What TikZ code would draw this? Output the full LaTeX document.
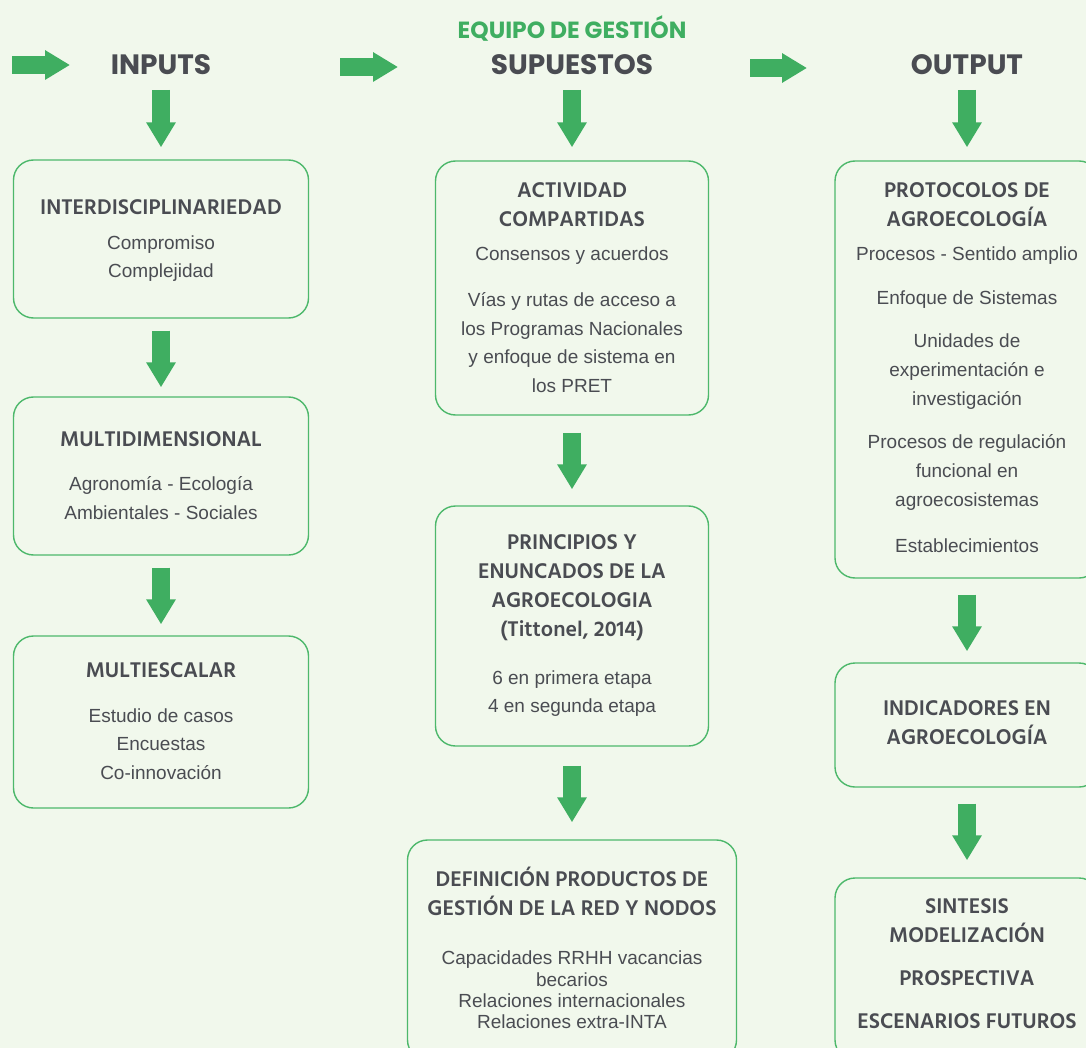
\documentclass[tikz,border=0pt]{standalone}
\usepackage{fontspec}
\usetikzlibrary{arrows.meta}
\setmainfont{Liberation Sans}
\newfontfamily\hdfont{Hind Siliguri}
\newfontfamily\ttlfont{Poppins}
\definecolor{bg}{HTML}{F1F8EC}
\definecolor{grn}{HTML}{3FAE61}
\definecolor{bord}{HTML}{4DB86B}
\definecolor{txt}{HTML}{4A4C52}
\begin{document}
\begin{tikzpicture}[x=1pt,y=-1pt,
  box/.style={draw=bord, line width=1.4pt, rounded corners=20pt, fill=bg, inner sep=0pt},
  hd/.style={font=\hdfont\bfseries\fontsize{21.8}{29}\selectfont, text=txt, align=center, inner sep=0pt},
  bd/.style={font=\fontsize{19}{28.7}\selectfont, text=txt, align=center, inner sep=0pt},
  bds/.style={font=\fontsize{19}{21.3}\selectfont, text=txt, align=center, inner sep=0pt},
  ttl/.style={font=\ttlfont\bfseries\fontsize{28}{32}\selectfont, text=txt, inner sep=0pt},
  flow/.style={draw=grn, line width=18pt, -{Triangle[width=28pt,length=25pt]}},
]
\fill[bg] (0,0) rectangle (1086,1048);
\useasboundingbox (0,0) rectangle (1086,1048);

% header and titles
\node[font=\ttlfont\bfseries\fontsize{23.4}{26}\selectfont, text=grn, inner sep=0pt] (hdr) at (572,28) {EQUIPO DE GESTIÓN};
\node[ttl] (t1) at (161,65) {INPUTS};
\node[ttl] (t2) at (572,65) {SUPUESTOS};
\node[ttl] (t3) at (967,65) {OUTPUT};

% horizontal arrows
\coordinate (h1a) at (12,65);  \coordinate (h1b) at (70,65);
\coordinate (h2a) at (340,67); \coordinate (h2b) at (398,67);
\coordinate (h3a) at (750,68); \coordinate (h3b) at (807,68);
\draw[flow] (h1a) -- (h1b);
\draw[flow] (h2a) -- (h2b);
\draw[flow] (h3a) -- (h3b);

% boxes
\node[box, minimum width=295pt, minimum height=158pt] (b1) at (161,239) {};
\node[box, minimum width=295pt, minimum height=158pt] (b2) at (161,476) {};
\node[box, minimum width=295pt, minimum height=172pt] (b3) at (161,722) {};
\node[box, minimum width=273pt, minimum height=254pt] (bA) at (572,288) {};
\node[box, minimum width=273pt, minimum height=240pt] (bB) at (572,626) {};
\node[box, minimum width=329pt, minimum height=220pt] (bC) at (572,950) {};
\node[box, minimum width=264pt, minimum height=417pt] (bD) at (967,369.5) {};
\node[box, minimum width=264pt, minimum height=124pt] (bE) at (967,725) {};
\node[box, minimum width=264pt, minimum height=182pt] (bF) at (967,969) {};

% vertical arrows
\draw[flow, shorten <=25pt, shorten >=12pt] (t1.center) -- (b1.north);
\draw[flow, shorten <=12pt, shorten >=9pt] (b1.south) -- (b2.north);
\draw[flow, shorten <=12pt, shorten >=11pt] (b2.south) -- (b3.north);
\draw[flow, shorten <=25pt, shorten >=13pt] (t2.center) -- (bA.north);
\draw[flow, shorten <=17pt, shorten >=16pt] (bA.south) -- (bB.north);
\draw[flow, shorten <=19pt, shorten >=17pt] (bB.south) -- (bC.north);
\draw[flow, shorten <=25pt, shorten >=13pt] (t3.center) -- (bD.north);
\draw[flow, shorten <=16pt, shorten >=11pt] (bD.south) -- (bE.north);
\draw[flow, shorten <=16pt, shorten >=17pt] (bE.south) -- (bF.north);

% left column text
\node[hd] (l1h) at (161,207) {INTERDISCIPLINARIEDAD};
\node[bd] (l1b) at (161,258.5) {Compromiso\\Complejidad};
\node[hd] (l2h) at (161,439) {MULTIDIMENSIONAL};
\node[bd] (l2b) at (161,498) {Agronomía - Ecología\\Ambientales - Sociales};
\node[hd] (l3h) at (161,670) {MULTIESCALAR};
\node[bd] (l3b) at (161,744) {Estudio de casos\\Encuestas\\Co-innovación};

% middle column text
\node[hd] (mAh) at (572,204.5) {ACTIVIDAD\\COMPARTIDAS};
\node[bd] (mA1) at (572,256) {Consensos y acuerdos};
\node[bd] (mA2) at (572,342.5) {Vías y rutas de acceso a\\los Programas Nacionales\\y enfoque de sistema en\\los PRET};
\node[hd] (mBh) at (572,587.5) {PRINCIPIOS Y\\ENUNCADOS DE LA\\AGROECOLOGIA\\(Tittonel, 2014)};
\node[bd] (mBb) at (572,693.5) {6 en primera etapa\\4 en segunda etapa};
\node[hd] (mCh) at (572,891.5) {DEFINICIÓN PRODUCTOS DE\\GESTIÓN DE LA RED Y NODOS};
\node[bds] (mCb) at (572,990) {Capacidades RRHH vacancias\\becarios\\Relaciones internacionales\\Relaciones extra-INTA};

% right column text
\node[hd] (rDh) at (967,204.5) {PROTOCOLOS DE\\AGROECOLOGÍA};
\node[bd] (rD1) at (967,256) {Procesos - Sentido amplio};
\node[bd] (rD2) at (967,300) {Enfoque de Sistemas};
\node[bd] (rD3) at (967,371.5) {Unidades de\\experimentación e\\investigación};
\node[bd] (rD4) at (967,472.5) {Procesos de regulación\\funcional en\\agroecosistemas};
\node[bd] (rD5) at (967,546) {Establecimientos};
\node[hd] (rEh) at (967,722.5) {INDICADORES EN\\AGROECOLOGÍA};
\node[hd] (rF1) at (967,920.5) {SINTESIS\\MODELIZACIÓN};
\node[hd] (rF2) at (967,978) {PROSPECTIVA};
\node[hd] (rF3) at (967,1021) {ESCENARIOS FUTUROS};
\end{tikzpicture}
\end{document}
